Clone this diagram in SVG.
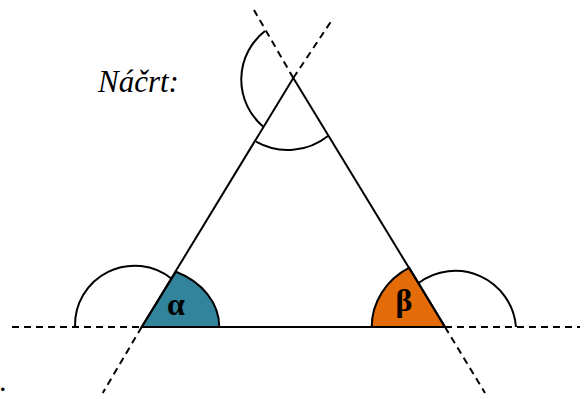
<svg xmlns="http://www.w3.org/2000/svg" width="585" height="399" viewBox="0 0 585 399">
<style>
.s{stroke:#000;stroke-width:2;fill:none;stroke-linecap:butt}
.d{stroke:#000;stroke-width:2;fill:none;stroke-dasharray:7,5}
.g{font-family:"Liberation Serif","DejaVu Serif",serif;font-weight:bold;font-size:32px;text-anchor:middle;fill:#000}
</style>
<rect width="585" height="399" fill="#fff"/>
<g id="angles">
<path d="M141.7,327 L219.3,327 A76.6 61.4 0 0 0 176,271.7 Z" fill="#31849B" stroke="#000" stroke-width="2"/>
<path d="M445,327 L371.7,327 A73.3 68 0 0 1 409.3,267.7 Z" fill="#E36C09" stroke="#000" stroke-width="2"/>
</g>
<g id="lines">
<line class="s" x1="141.7" y1="327" x2="445" y2="327"/>
<line class="s" x1="141.7" y1="327" x2="293.3" y2="78"/>
<line class="s" x1="445" y1="327" x2="293.3" y2="78"/>
<line class="d" x1="12" y1="327" x2="141.7" y2="327"/>
<line class="d" x1="445" y1="327" x2="580" y2="327"/>
<line class="d" x1="141.7" y1="327" x2="102.7" y2="393"/>
<line class="d" x1="445" y1="327" x2="485" y2="393"/>
<line class="d" x1="293.3" y1="78" x2="333.3" y2="18"/>
<line class="d" x1="293.3" y1="78" x2="254" y2="10"/>
</g>
<g id="arcs">
<path class="s" d="M75,327 A59.5 59.5 0 0 1 172,279"/>
<path class="s" d="M418.3,283.3 A61 61 0 0 1 516,327"/>
<path class="s" d="M265,31 A61.5 61.5 0 0 0 263.3,126.7"/>
<path class="s" d="M256,141.7 A64.7 64.7 0 0 0 328.3,135.7"/>
</g>
<g id="labels">
<text x="98" y="92" font-family="Liberation Serif, serif" font-style="italic" font-size="31" fill="#000">Náčrt:</text>
<text class="g" x="176" y="315">α</text>
<text class="g" x="404" y="311">β</text>
<text x="0" y="391" font-family="Liberation Serif, serif" font-weight="bold" font-size="22" fill="#000">.</text>
</g>
</svg>
